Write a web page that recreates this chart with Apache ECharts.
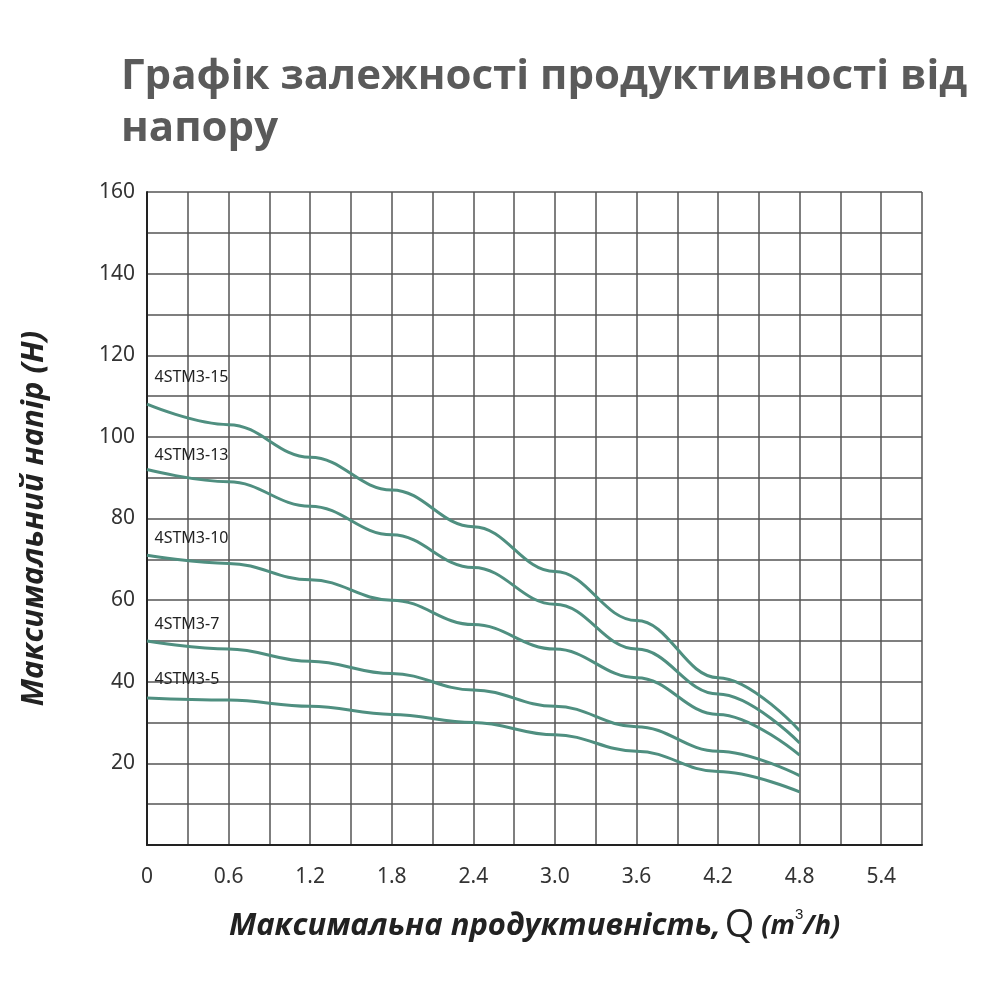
<!DOCTYPE html>
<html><head><meta charset="utf-8">
<script src="https://cdn.jsdelivr.net/npm/echarts@6/dist/echarts.min.js"></script>
<style>html,body{margin:0;background:#fff}#c{width:1000px;height:1000px}</style>
</head><body><div id="c"></div>
<script>
const xs = [0, 0.6, 1.2, 1.8, 2.4, 3.0, 3.6, 4.2, 4.8];
const names = ['4STM3-15', '4STM3-13', '4STM3-10', '4STM3-7', '4STM3-5'];
const h15 = [108, 103, 95, 87, 78, 67, 55, 41, 28];
const h13 = [92, 89, 83, 76, 68, 59, 48, 37, 25];
const h10 = [71, 69, 65, 60, 54, 48, 41, 32, 22];
const h7 = [50, 48, 45, 42, 38, 34, 29, 23, 17];
const h5 = [36, 35.5, 34, 32, 30, 27, 23, 18, 13];
const labelY = [114.5, 95.5, 75, 54, 40.5];
const xTicks = ['0','0.6','1.2','1.8','2.4','3.0','3.6','4.2','4.8','5.4'];
const all = [h15, h13, h10, h7, h5];
const chart = echarts.init(document.getElementById('c'));
const series = all.map((h, i) => ({
  type: 'line', name: names[i], smooth: 0.4, smoothMonotone: 'x', symbol: 'none',
  lineStyle: {color: '#4f8f80', width: 3},
  data: xs.map((x, j) => [x, h[j]]),
  markPoint: {symbol: 'circle', symbolSize: 1, itemStyle: {color: 'rgba(0,0,0,0)'},
    data: [{coord: [0, labelY[i]], value: names[i]}],
    label: {show: true, position: 'right', offset: [2, 0], formatter: names[i], color: '#222', fontSize: 16, fontFamily: 'Noto Sans'}}
}));
chart.setOption({
  animation: false,
  backgroundColor: '#fff',
  title: {text: 'Графік залежності продуктивності від\nнапору', left: 116, top: 46,
    textStyle: {color: '#5a5a5a', fontSize: 42, fontWeight: 'bold', fontFamily: 'Open Sans', lineHeight: 52}},
  grid: {left: 147, right: 78, top: 192, bottom: 155},
  xAxis: {type: 'value', min: 0, max: 5.7, interval: 0.3,
    axisLine: {lineStyle: {color: '#222', width: 2}}, axisTick: {show: false},
    splitLine: {show: true, lineStyle: {color: '#555', width: 1.5}},
    axisLabel: {color: '#333', fontSize: 21, fontFamily: 'Noto Sans', margin: 22, showMaxLabel: false,
      formatter: v => { const k = Math.round(v / 0.3); return k % 2 === 0 ? xTicks[k / 2] : ''; }},
    name: '{a|Максимальна продуктивність,}{q|Q}{b| (m}{s|3}{b|/h)}', nameLocation: 'middle', nameGap: 62,
    nameTextStyle: {rich: {
      a: {fontSize: 31, fontStyle: 'italic', fontWeight: 'bold', color: '#222', fontFamily: 'Open Sans'},
      q: {fontSize: 38, color: '#222', fontFamily: 'Open Sans', padding: [0, 0, 0, 4]},
      b: {fontSize: 27, fontStyle: 'italic', fontWeight: 'bold', color: '#222', fontFamily: 'Open Sans'},
      s: {fontSize: 15, color: '#222', verticalAlign: 'top', padding: [0, 0, 16, 0]}
    }}},
  yAxis: {type: 'value', min: 0, max: 160, interval: 10,
    axisLine: {show: true, lineStyle: {color: '#222', width: 2}}, axisTick: {show: false},
    splitLine: {show: true, lineStyle: {color: '#555', width: 1.5}},
    axisLabel: {color: '#333', fontSize: 21, fontFamily: 'Noto Sans', margin: 12,
      formatter: v => (v > 0 && v % 20 === 0) ? String(v) : ''},
    name: 'Максимальний напір (Н)', nameLocation: 'middle', nameGap: 97, nameRotate: 90,
    nameTextStyle: {fontSize: 31, fontStyle: 'italic', fontWeight: 'bold', color: '#222', fontFamily: 'Open Sans'}},
  series
});
</script></body></html>
